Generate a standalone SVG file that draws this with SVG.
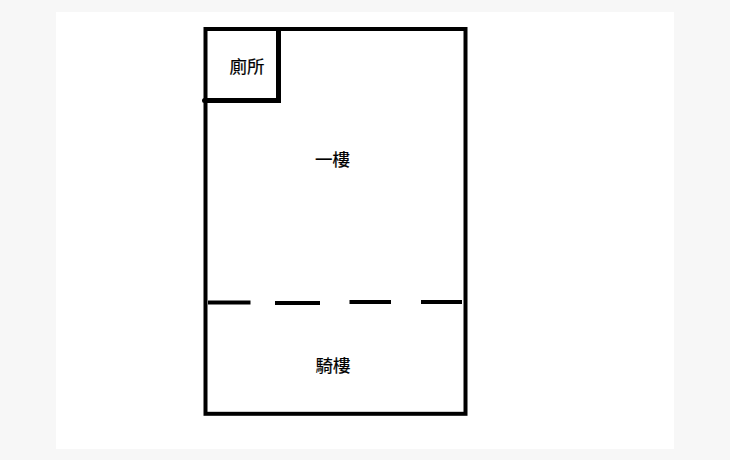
<svg xmlns="http://www.w3.org/2000/svg" width="730" height="460" viewBox="0 0 730 460">
<style>
.w{fill:none;stroke:#000;stroke-width:4}
.t{fill:none;stroke:#000;stroke-width:5}
.d{fill:none;stroke:#000;stroke-width:4.200}
.l{font-family:"Liberation Sans","Noto Sans CJK TC",sans-serif;font-size:17.500px;fill:#000;stroke:#000;stroke-width:.2;text-anchor:middle}
</style>
<rect width="730" height="460" fill="#f7f7f7"/>
<rect x="56" y="12" width="618" height="437" fill="#fff"/>
<g id="outline"><rect class="w" x="205.500" y="29" width="260" height="384.800"/></g>
<g id="restroom">
<path class="t" d="M205 100.500H278.500V29"/>
<circle cx="204.500" cy="100.500" r="2.500" fill="#000"/>
<text class="l" x="247" y="72.500">廁所</text>
</g>
<g id="first-floor"><text class="l" x="332.500" y="165.500">一樓</text></g>
<g id="arcade"><text class="l" x="333" y="372">騎樓</text></g>
<g id="connectors">
<path class="d" d="M208 302.500H250.500"/>
<path class="d" d="M275 303H320"/>
<path class="d" d="M349.500 302H391"/>
<path class="d" d="M421 302H462"/>
</g>
</svg>
